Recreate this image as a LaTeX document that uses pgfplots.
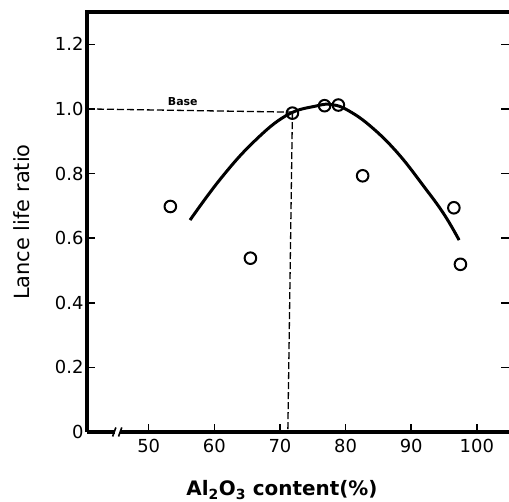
\documentclass[border=0pt]{standalone}
\usepackage{fontspec}
\setmainfont{DejaVu Sans}
\usepackage{pgfplots}
\pgfplotsset{compat=1.18}
\begin{document}
\begin{tikzpicture}
\useasboundingbox (0,0) rectangle (509bp,502bp);
\begin{axis}[
  at={(87bp,70bp)}, anchor=south west,
  scale only axis, width=422bp, height=420bp,
  xmin=40.6, xmax=104.9, ymin=0, ymax=1.3,
  axis line style={draw=none},
  xtick={50,60,70,80,90,100},
  ytick={0,0.2,0.4,0.6,0.8,1.0,1.2},
  yticklabels={0,0.2,0.4,0.6,0.8,1.0,1.2},
  xtick pos=bottom, ytick pos=both,
  tick align=inside,
  major tick length=8bp,
  tick style={line width=1.6bp, black},
  /pgf/number format/assume math mode=true,
  ticklabel style={font=\fontsize{18}{20}\selectfont},
  xticklabel style={yshift=-4bp},
  ylabel={Lance life ratio},
  ylabel style={at={(axis description cs:-0.154,0.5)}, anchor=center, font=\fontsize{21}{24}\selectfont},
  xlabel={\textbf{Al\textsubscript{2}O\textsubscript{3} content(\%)}},
  xlabel style={at={(axis description cs:0.462,-0.138)}, anchor=center, font=\fontsize{20}{23}\selectfont},
  clip=false,
]
% axis frame: left, top, bottom with break
\draw[line width=3.4bp] (rel axis cs:0,0) -- (rel axis cs:0,1) -- (rel axis cs:1,1);
\draw[line width=3.4bp] (axis cs:40.6,0) -- (axis cs:44.8,0);
\draw[line width=3.4bp] (axis cs:45.6,0) -- (axis cs:104.9,0);
\draw[line width=1.6bp] (axis cs:44.5,-0.014) -- (axis cs:45.0,0.014);
\draw[line width=1.6bp] (axis cs:45.4,-0.014) -- (axis cs:45.9,0.014);
% fitted curve
\addplot[line width=3bp, smooth, tension=0.7] coordinates {
 (56.3,0.656) (61.0,0.785) (66.0,0.898) (71.0,0.980)
 (75.5,1.009) (78.0,1.013) (80.5,0.994) (84.0,0.943) (88.0,0.862)
 (92.0,0.758) (95.0,0.674) (97.3,0.594)
};
% base dashed lines
\addplot[line width=1.3bp, dash pattern=on 7bp off 3bp] coordinates {(40.6,1.0) (71.9,0.99)};
\addplot[line width=1.3bp, dash pattern=on 7bp off 3bp] coordinates {(71.9,0.99) (71.2,0)};
% data points
\addplot[only marks, mark=o, mark size=5.8bp, mark options={line width=2bp, fill=white}] coordinates {
 (53.3,0.698) (65.5,0.538) (71.9,0.987) (76.8,1.010) (78.9,1.012)
 (82.6,0.793) (96.5,0.694) (97.5,0.519)
};
\node[font=\bfseries\fontsize{11}{13}\selectfont, anchor=base] at (axis cs:55.2,1.012) {Base};
\end{axis}
\end{tikzpicture}
\end{document}
